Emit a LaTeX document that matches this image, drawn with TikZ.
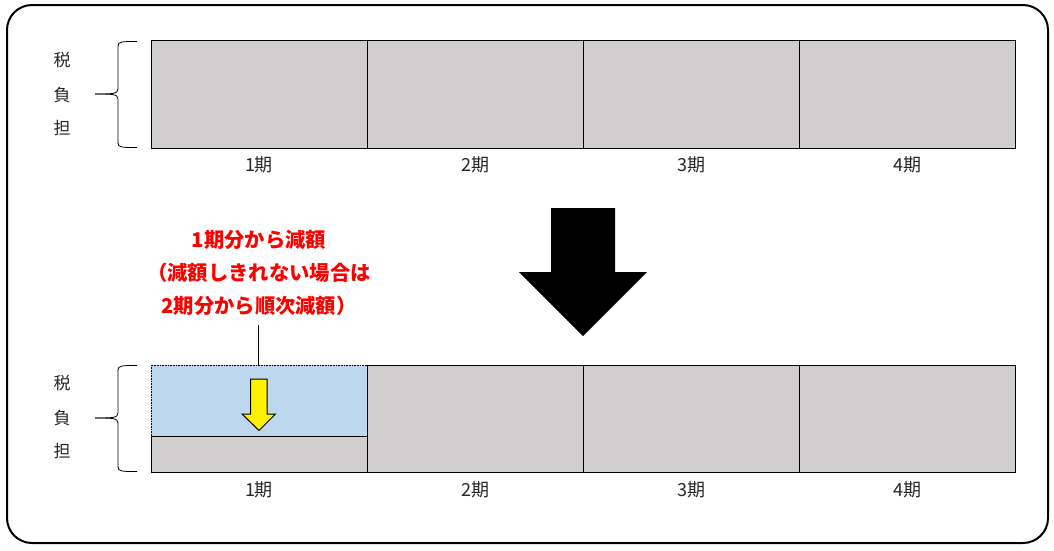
\documentclass[tikz,border=0pt]{standalone}
\usepackage{fontspec}
\newfontfamily\jp{Noto Sans CJK JP}
\usetikzlibrary{calc}
\definecolor{boxgray}{HTML}{D0CECE}
\definecolor{boxblue}{HTML}{BDD7EE}
\definecolor{txtred}{HTML}{FF0000}
\begin{document}
\begin{tikzpicture}[x=1pt,y=-1pt,
  period/.style={draw=black,line width=0.8pt,fill=boxgray},
  plabel/.style={font=\jp\fontsize{18}{18}\selectfont,text=black!85,inner sep=0pt},
  sidelbl/.style={font=\jp\fontsize{17}{17}\selectfont,text=black!85,inner sep=0pt},
  bracel/.style={draw=black,line width=0.8pt},
  redtxt/.style={font=\jp\bfseries\fontsize{20.3}{33}\selectfont,text=txtred,align=center,inner sep=0pt}]
\useasboundingbox (0,0) rectangle (1054,550);
\draw[line width=2pt,rounded corners=25pt] (7,5) rectangle (1048,543);

% top row
\foreach \i/\x in {1/151,2/367,3/583,4/799}{
  \draw[period] (\x,40) rectangle ++(216,108);
  \node[plabel] (t\i) at (\x+108,165) {{\i}期};
}
% top brace
\draw[bracel] (137,41.5) .. controls (122,41.5) and (118,41.5) .. (118,46) -- (118,89)
  .. controls (118,94) and (112,94) .. (95,94);
\draw[bracel] (137,147.5) .. controls (122,147.5) and (118,147.5) .. (118,143) -- (118,99)
  .. controls (118,94) and (112,94) .. (95,94);
\node[sidelbl] (s1) at (62,60) {税};
\node[sidelbl] (s2) at (62,95) {負};
\node[sidelbl] (s3) at (62,128) {担};

% big black arrow
\fill[black] (551,208) -- (615,208) -- (615,272) -- (647,272) -- (583,336) -- (519,272) -- (551,272) -- cycle;

% bottom row
\fill[boxblue] (151,365) rectangle (367,436);
\draw[densely dotted,line width=0.6pt] (151,436) -- (151,365) -- (367,365);
\draw[period] (151,436) rectangle (367,472);
\foreach \i/\x in {2/367,3/583,4/799}{
  \draw[period] (\x,365) rectangle ++(216,107);
}
\foreach \i/\x in {1/151,2/367,3/583,4/799}{
  \node[plabel] (b\i) at (\x+108,490) {{\i}期};
}
% bottom brace
\draw[bracel] (137,365.5) .. controls (122,365.5) and (118,365.5) .. (118,370) -- (118,413)
  .. controls (118,418) and (112,418) .. (95,418);
\draw[bracel] (137,471.5) .. controls (122,471.5) and (118,471.5) .. (118,467) -- (118,423)
  .. controls (118,418) and (112,418) .. (95,418);
\node[sidelbl] (u1) at (62,383) {税};
\node[sidelbl] (u2) at (62,418) {負};
\node[sidelbl] (u3) at (62,451) {担};

% yellow arrow
\draw[fill=yellow,line width=1pt,line join=miter] (250.5,379) -- (267,379) -- (267,414) -- (275.5,414) -- (259,430.5) -- (242,414) -- (250.5,414) -- cycle;

% red text and leader
\node[redtxt] (note) at (259,273) {1期分から減額\\（減額しきれない場合は\\2期分から順次減額）};
\coordinate (lt) at (258,325);
\coordinate (lb) at (258,366);
\draw[line width=0.6pt] (lt) -- (lb);
\end{tikzpicture}
\end{document}
